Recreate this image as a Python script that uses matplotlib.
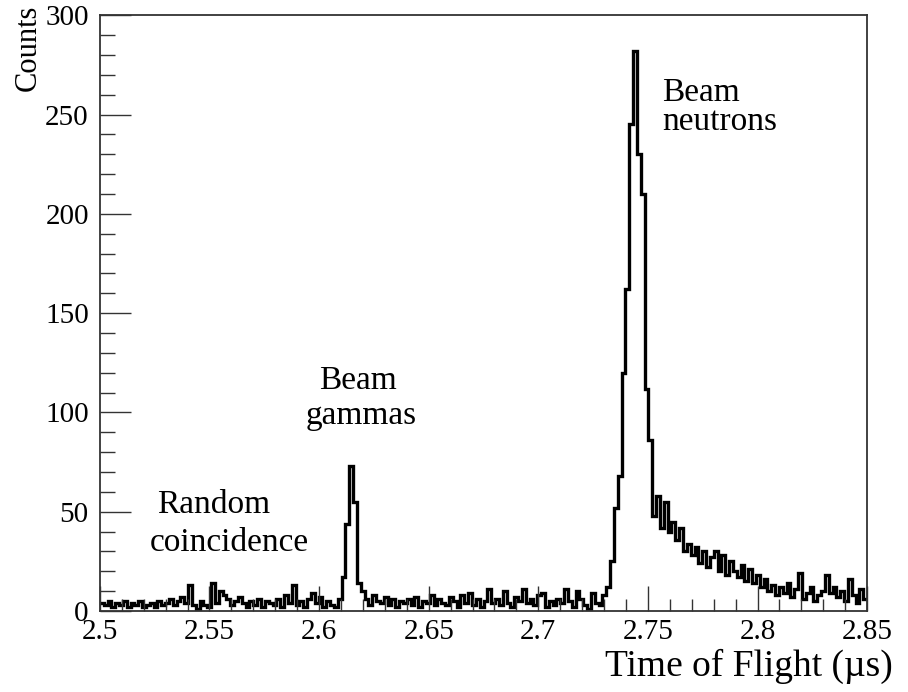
import matplotlib
matplotlib.use("Agg")
import matplotlib.pyplot as plt
import numpy as np
from matplotlib.ticker import MultipleLocator, FuncFormatter

# histogram range and binning (200 bins of 1.75 ns)
t_min, t_max, n_bins = 2.5, 2.85, 200

# counts per bin
counts = [
    4, 3, 5, 2, 4, 3, 5, 2, 4, 3,
    5, 2, 3, 4, 2, 5, 3, 4, 6, 3,
    5, 7, 4, 13, 3, 1, 5, 3, 2, 14,
    4, 10, 8, 6, 3, 5, 7, 4, 2, 5,
    3, 6, 2, 5, 4, 3, 6, 2, 8, 4,
    13, 3, 5, 2, 6, 9, 4, 7, 2, 5,
    3, 2, 6, 17, 44, 73, 55, 14, 10, 6,
    3, 8, 5, 4, 7, 3, 6, 2, 5, 4,
    6, 3, 7, 2, 5, 4, 8, 3, 6, 4,
    3, 7, 5, 2, 8, 4, 9, 3, 6, 2,
    5, 11, 4, 6, 3, 10, 4, 2, 7, 5,
    11, 4, 6, 3, 8, 9, 2, 5, 3, 6,
    4, 11, 5, 2, 10, 6, 3, 1, 9, 4,
    3, 8, 12, 25, 52, 68, 120, 162, 245, 282,
    230, 210, 112, 86, 48, 58, 42, 55, 40, 45,
    36, 42, 30, 34, 28, 32, 24, 30, 22, 27,
    30, 20, 28, 18, 25, 20, 17, 23, 15, 21,
    14, 18, 12, 16, 10, 13, 8, 12, 9, 14,
    7, 11, 19, 6, 9, 12, 5, 8, 10, 18,
    9, 12, 7, 10, 5, 16, 8, 4, 11, 6,
]

# annotation lines: (text, x, y)
labels = [
    ("Beam", 2.7565, 257),
    ("neutrons", 2.7565, 242),
    ("Beam", 2.6, 112),
    ("gammas", 2.594, 94),
    ("Random", 2.526, 49.5),
    ("coincidence", 2.5228, 30),
]

plt.rcParams['font.family'] = ['Liberation Serif', 'DejaVu Serif']

edges = np.linspace(t_min, t_max, n_bins + 1)

fig = plt.figure(figsize=(9.08, 6.92), dpi=100)
ax = fig.add_axes([0.110, 0.117, 0.845, 0.861])

ax.stairs(counts, edges, baseline=None, color='black', linewidth=2.4)

ax.set_xlim(t_min, t_max)
ax.set_ylim(0, 300)

ax.xaxis.set_major_locator(MultipleLocator(0.05))
ax.xaxis.set_minor_locator(MultipleLocator(0.01))
ax.yaxis.set_major_locator(MultipleLocator(50))
ax.yaxis.set_minor_locator(MultipleLocator(10))
fmt = FuncFormatter(lambda v, p: f"{v:g}")
ax.xaxis.set_major_formatter(fmt)
ax.yaxis.set_major_formatter(fmt)

frame_col = '#333333'
for s in ax.spines.values():
    s.set_color(frame_col)
    s.set_linewidth(1.3)

ax.tick_params(axis='both', which='both', direction='in', color=frame_col,
               top=False, right=False, labelsize=21, width=1.0)
ax.tick_params(axis='x', which='major', length=18, pad=6)
ax.tick_params(axis='x', which='minor', length=9)
ax.tick_params(axis='y', which='major', length=22, pad=8)
ax.tick_params(axis='y', which='minor', length=11)

ax.set_xlabel("Time of Flight (\u00b5s)", fontsize=27, loc='right')
ax.xaxis.set_label_coords(1.034, -0.063)
ax.set_ylabel("Counts", fontsize=22, loc='top')
ax.yaxis.set_label_coords(-0.074, 1.017)

for txt, x, y in labels:
    ax.text(x, y, txt, fontsize=24, ha='left', va='baseline')

fig.savefig("out.png", dpi=100)
